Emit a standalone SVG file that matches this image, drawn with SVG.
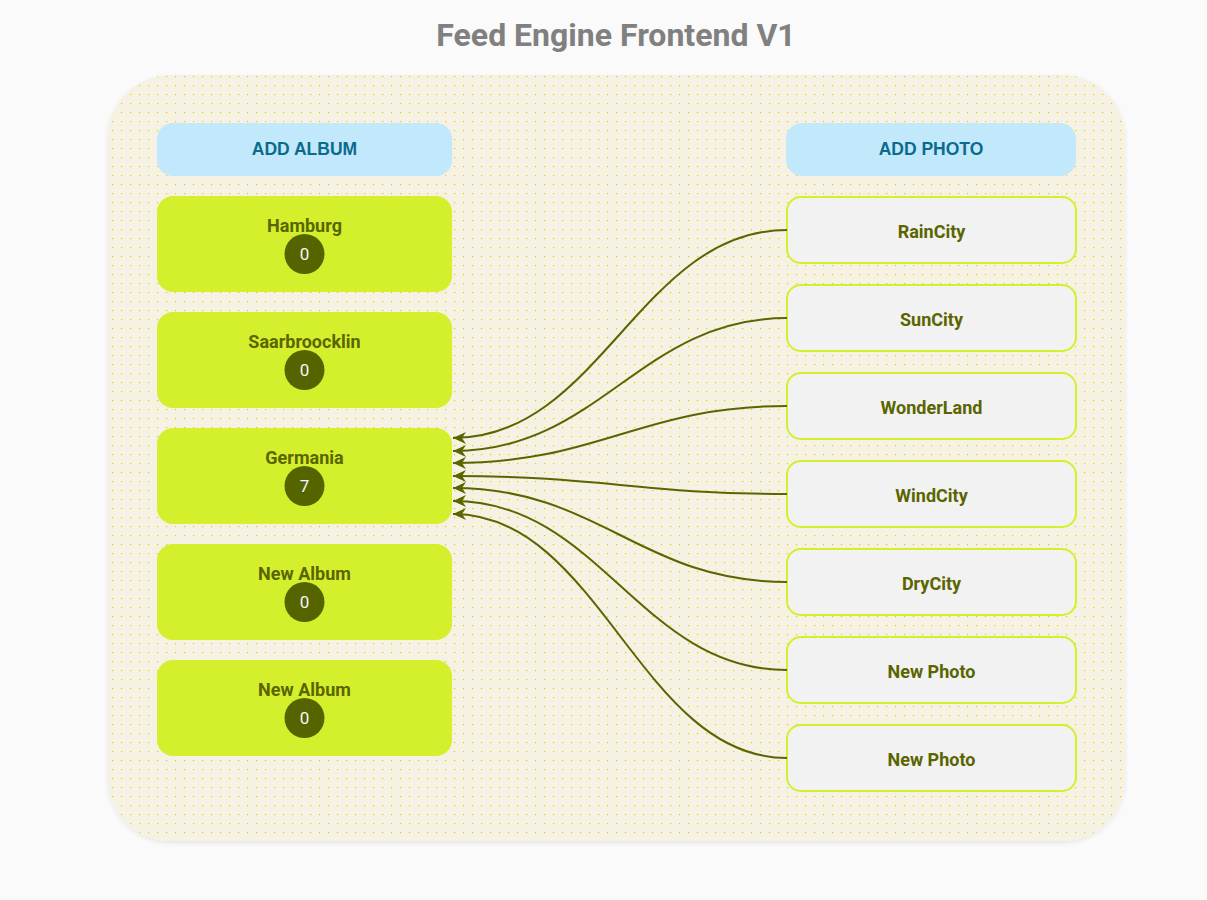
<svg xmlns="http://www.w3.org/2000/svg" width="1207" height="900" viewBox="0 0 1207 900">
<defs>
<pattern id="dots" x="0" y="0" width="9" height="9" patternUnits="userSpaceOnUse">
<rect x="4" y="4" width="1.2" height="1.2" fill="#f2c600"/>
</pattern>
<filter id="sh" x="-5%" y="-5%" width="110%" height="110%">
<feDropShadow dx="0" dy="2" stdDeviation="2" flood-color="#000" flood-opacity="0.08"/>
</filter>
<marker id="arr" markerWidth="14" markerHeight="12" refX="13" refY="6" orient="auto" markerUnits="userSpaceOnUse">
<path d="M0,0 L13,6 L0,12 L4,6 z" fill="#5b6500"/>
</marker>
</defs>
<style>
text{font-family:Roboto,"Liberation Sans",sans-serif;font-weight:bold;text-anchor:middle;dominant-baseline:central}
.title{font-size:32px;fill:#808080}
.hdr rect{fill:#c2e8fc}
.hdr text{font-family:"Liberation Sans",Arial,sans-serif;font-size:17.5px;fill:#0b6b8c}
.album rect{fill:#d4f02c}
.album text{font-size:18px;fill:#5b6500}
.album circle{fill:#566400}
.album .n{font-weight:normal;fill:#f4f6ff;font-size:17px}
.photo rect{fill:#f2f2f2;stroke:#d4f02c;stroke-width:2}
.photo text{font-size:18px;fill:#5b6500}
.edges path{fill:none;stroke:#5b6500;stroke-width:2;marker-end:url(#arr)}
</style>
<rect width="1207" height="900" fill="#fafafa"/>
<text class="title" x="616" y="35">Feed Engine Frontend V1</text>
<g id="container">
<rect x="108" y="75" width="1017" height="766" rx="62" fill="#f5f2e3" filter="url(#sh)"/>
<rect x="108" y="75" width="1017" height="766" rx="62" fill="url(#dots)"/>
</g>
<g id="add-album" class="hdr"><rect x="157" y="123" width="295" height="53" rx="16"/><text x="304.5" y="149">ADD ALBUM</text></g>
<g id="add-photo" class="hdr"><rect x="786" y="123" width="290" height="53" rx="16"/><text x="931" y="149">ADD PHOTO</text></g>
<g id="album-hamburg" class="album"><rect x="157" y="196" width="295" height="96" rx="16"/><text x="304.5" y="225">Hamburg</text><circle cx="304.5" cy="254" r="20"/><text class="n" x="304.5" y="254">0</text></g>
<g id="album-saarbroocklin" class="album"><rect x="157" y="312" width="295" height="96" rx="16"/><text x="304.5" y="341">Saarbroocklin</text><circle cx="304.5" cy="370" r="20"/><text class="n" x="304.5" y="370">0</text></g>
<g id="album-germania" class="album"><rect x="157" y="428" width="295" height="96" rx="16"/><text x="304.5" y="457">Germania</text><circle cx="304.5" cy="486" r="20"/><text class="n" x="304.5" y="486">7</text></g>
<g id="album-new-1" class="album"><rect x="157" y="544" width="295" height="96" rx="16"/><text x="304.5" y="573">New Album</text><circle cx="304.5" cy="602" r="20"/><text class="n" x="304.5" y="602">0</text></g>
<g id="album-new-2" class="album"><rect x="157" y="660" width="295" height="96" rx="16"/><text x="304.5" y="689">New Album</text><circle cx="304.5" cy="718" r="20"/><text class="n" x="304.5" y="718">0</text></g>
<g id="photo-raincity" class="photo"><rect x="787" y="197" width="289" height="66" rx="14"/><text x="931.5" y="231">RainCity</text></g>
<g id="photo-suncity" class="photo"><rect x="787" y="285" width="289" height="66" rx="14"/><text x="931.5" y="319">SunCity</text></g>
<g id="photo-wonderland" class="photo"><rect x="787" y="373" width="289" height="66" rx="14"/><text x="931.5" y="407">WonderLand</text></g>
<g id="photo-windcity" class="photo"><rect x="787" y="461" width="289" height="66" rx="14"/><text x="931.5" y="495">WindCity</text></g>
<g id="photo-drycity" class="photo"><rect x="787" y="549" width="289" height="66" rx="14"/><text x="931.5" y="583">DryCity</text></g>
<g id="photo-new-1" class="photo"><rect x="787" y="637" width="289" height="66" rx="14"/><text x="931.5" y="671">New Photo</text></g>
<g id="photo-new-2" class="photo"><rect x="787" y="725" width="289" height="66" rx="14"/><text x="931.5" y="759">New Photo</text></g>
<g id="connectors" class="edges">
<path d="M787,230 C640,230 600,438 453,438"/>
<path d="M787,318 C640,318 600,451 453,451"/>
<path d="M787,406 C640,406 600,463 453,463"/>
<path d="M787,494 C640,494 600,476 453,476"/>
<path d="M787,582 C640,582 600,488 453,488"/>
<path d="M787,670 C640,670 600,501 453,501"/>
<path d="M787,758 C640,758 600,514 453,514"/>
</g>
</svg>
